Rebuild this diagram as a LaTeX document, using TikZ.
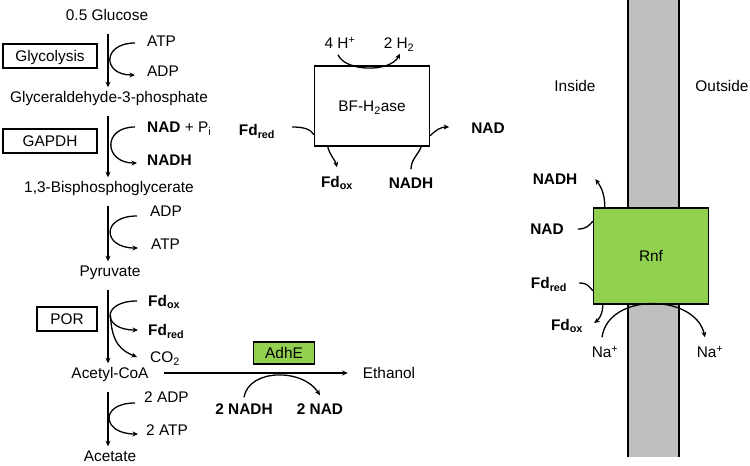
\documentclass[tikz,border=0pt]{standalone}
\usepackage{fontspec}
\setmainfont{Liberation Sans}
\usetikzlibrary{arrows.meta}
\definecolor{rnfgreen}{RGB}{146,208,80}
\definecolor{membrane}{RGB}{191,191,191}
\begin{document}
\begin{tikzpicture}[
    x=1pt, y=-1pt,
    every node/.style={inner sep=0pt, text height=11pt, text depth=0pt,
      font=\fontsize{15.4}{18}\selectfont},
    bold/.style={font=\fontsize{15.4}{18}\selectfont\bfseries},
    enzyme/.style={draw, line width=1.4pt},
    arrow/.style={draw, line width=1.3pt, -{Stealth[length=5.5pt,width=5pt]}},
    line/.style={draw, line width=1.3pt},
    main/.style={arrow, shorten <=13pt, shorten >=4pt}
  ]
  \useasboundingbox (0,0) rectangle (750,466);
  % membrane
  \fill[membrane] (628,0) rectangle (679,457);
  \draw[line width=1.6pt] (628,0) -- (628,457) (679,0) -- (679,457);

  % pathway
  \coordinate (ax) at (108,0);
  \node (glc) at (107,15) {0.5 Glucose};
  \node (g3p) at (109,97) {Glyceraldehyde-3-phosphate};
  \node (bpg) at (109,187) {1,3-Bisphosphoglycerate};
  \node (pyr) at (110,271) {Pyruvate};
  \node (acoa) at (110,373) {Acetyl-CoA};
  \node (acet) at (110,456) {Acetate};
  \node (etoh) at (389,373) {Ethanol};

  \node[enzyme, minimum width=94pt, minimum height=24pt] (glyc) at (50,56) {Glycolysis};
  \node[enzyme, minimum width=94pt, minimum height=24pt] (gapdh) at (50,141) {GAPDH};
  \node[enzyme, minimum width=60pt, minimum height=24pt] (por) at (67,319) {POR};
  \node[enzyme, fill=rnfgreen, minimum width=61pt, minimum height=22pt] (adhe) at (284,353) {AdhE};

  \node[anchor=west] (atp1) at (147,41) {ATP};
  \node[anchor=west] (adp1) at (147,71) {ADP};
  \node[anchor=west] (nad1) at (147,127) {\textbf{NAD} + P\textsubscript{i}};
  \node[bold, anchor=west] (nadh1) at (147,160) {NADH};
  \node[anchor=west] (adp2) at (150,211) {ADP};
  \node[anchor=west] (atp2) at (151,244) {ATP};
  \node[bold, anchor=west] (fdox1) at (148,301) {Fd\textsubscript{ox}};
  \node[bold, anchor=west] (fdred1) at (148,330) {Fd\textsubscript{red}};
  \node[anchor=west] (co2) at (150,357) {CO\textsubscript{2}};
  \node[anchor=west] (adp3) at (144,397) {2 ADP};
  \node[anchor=west] (atp3) at (146,430) {2 ATP};
  \node[bold] (nadh2) at (244,409) {2 NADH};
  \node[bold] (nad2) at (320,409) {2 NAD};

  \draw[main] (glc.south -| ax) -- (g3p.north -| ax);
  \draw[main] (g3p.south -| ax) -- (bpg.north -| ax);
  \draw[main] (bpg.south -| ax) -- (pyr.north -| ax);
  \draw[main] (pyr.south -| ax) -- (acoa.north -| ax);
  \draw[main] (acoa.south -| ax) -- (acet.north -| ax);
  \draw[arrow, shorten <=15pt, shorten >=15pt] (acoa) -- (etoh);

  \draw[arrow] ([xshift=-12pt,yshift=-2pt]atp1.west) .. controls +(-33,0) and +(-33,0) .. ([xshift=-12pt,yshift=-4pt]adp1.west);
  \draw[arrow] ([xshift=-12pt]nad1.west) .. controls +(-33,0) and +(-33,0) .. ([xshift=-10pt,yshift=-3pt]nadh1.west);
  \draw[arrow] ([xshift=-13pt,yshift=-5pt]adp2.west) .. controls +(-36,0) and +(-36,0) .. ([xshift=-13pt,yshift=-4pt]atp2.west);
  \draw[arrow] ([xshift=-11pt]fdox1.west) .. controls +(-36,0) and +(-36,0) .. coordinate[pos=0.5] (porm) ([xshift=-10pt]fdred1.west);
  \draw[arrow] (porm) .. controls +(1,28) and +(-15,-6) .. ([xshift=-13pt]co2.west);
  \draw[arrow] ([xshift=-9pt,yshift=-6pt]adp3.west) .. controls +(-36,0) and +(-36,0) .. ([xshift=-8pt,yshift=-4pt]atp3.west);
  \draw[arrow] ([yshift=6pt]nadh2.north) .. controls +(5,-29) and +(-17,-27) .. ([yshift=8pt]nad2.north);

  % bifurcating hydrogenase
  \node[enzyme, minimum width=115pt, minimum height=80pt] (bfh) at (372,106) {BF-H\textsubscript{2}ase};
  \node (hplus) at (340,43) {4 H\textsuperscript{+}};
  \node (htwo) at (399,43) {2 H\textsubscript{2}};
  \node[bold] (fdred2) at (257,130) {Fd\textsubscript{red}};
  \node[bold] (nad3) at (488,128) {NAD};
  \node[bold] (fdox2) at (337,182) {Fd\textsubscript{ox}};
  \node[bold] (nadh3) at (411,183) {NADH};

  \draw[arrow] ([xshift=-2pt,yshift=-6pt]hplus.south) .. controls +(7,17) and +(-10,19) .. ([xshift=1pt,yshift=-5pt]htwo.south);
  \draw[line] ([xshift=17pt,yshift=3pt]fdred2.east) .. controls +(10,0) and +(-3,-6) .. ([yshift=12pt]bfh.south west);
  \draw[arrow] ([yshift=11pt]bfh.south east) .. controls +(6,-6) and +(-8,0) .. ([xshift=-22pt,yshift=1pt]nad3.west);
  \draw[arrow] ([xshift=14pt]bfh.south west) .. controls +(2,9) and +(-2,-8) .. ([yshift=9pt]fdox2.north);
  \draw[line] ([yshift=8pt]nadh3.north) .. controls +(0,-10) and +(-3,8) .. ([xshift=-9pt]bfh.south east);

  % Rnf complex
  \node (inside) at (575,86) {Inside};
  \node (outside) at (722,86) {Outside};
  \node[enzyme, fill=rnfgreen, minimum width=115pt, minimum height=96pt] (rnf) at (651,256) {Rnf};
  \node[bold] (nadh4) at (555,179) {NADH};
  \node[bold] (nad4) at (547,229) {NAD};
  \node[bold] (fdred4) at (549,283) {Fd\textsubscript{red}};
  \node[bold] (fdox4) at (567,325) {Fd\textsubscript{ox}};
  \node (nain) at (605,352) {Na\textsuperscript{+}};
  \node (naout) at (710,352) {Na\textsuperscript{+}};

  \draw[arrow] ([xshift=12pt]rnf.north west) .. controls +(0,-16) and +(4,6) .. ([xshift=18pt]nadh4.east);
  \draw[line] ([xshift=14pt]nad4.east) .. controls +(9,0) and +(-4,4) .. ([yshift=-14pt]rnf.north west);
  \draw[line] ([xshift=12pt]fdred4.east) .. controls +(9,0) and +(-4,-4) .. ([yshift=14pt]rnf.south west);
  \draw[arrow] ([xshift=10pt]rnf.south west) .. controls +(0,10) and +(4,-3) .. ([xshift=11pt,yshift=2pt]fdox4.east);
  \draw[arrow] ([xshift=-3pt,yshift=9pt]nain.north) .. controls +(6,-45) and +(-10,-44) .. ([xshift=-5pt,yshift=9pt]naout.north);
\end{tikzpicture}
\end{document}
